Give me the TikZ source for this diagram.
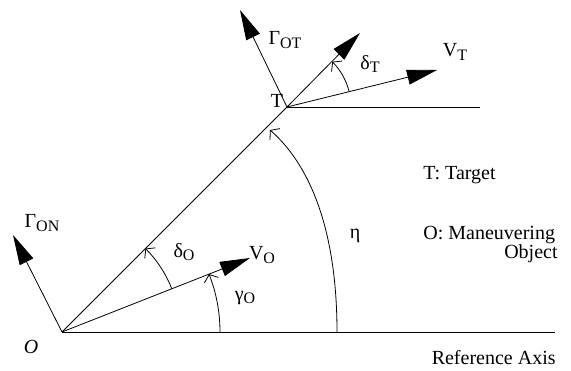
\documentclass[tikz,border=0pt]{standalone}
\usepackage{fontspec}
\setmainfont{Liberation Serif}
\usetikzlibrary{arrows.meta}
\newcommand\sbs[1]{\raisebox{-0.35ex}{\fontsize{16}{16}\selectfont #1}}
\begin{document}
\begin{tikzpicture}[x=1pt,y=1pt, line width=0.8pt,
  vec/.style={-{Triangle[length=30pt,width=15pt]}},
  arcarrow/.style={-{Straight Barb[length=6pt,width=15pt]}},
  lbl/.style={font=\fontsize{20}{20}\selectfont, inner sep=0pt}]
\useasboundingbox (0,0) rectangle (571,371);
\coordinate (O) at (62,39);
\coordinate (T) at (287,264);
\coordinate (axisend) at (555,39);
\coordinate (Tend) at (480,264);
\coordinate (GON) at (13,136);
\coordinate (VO) at (250,113);
\coordinate (GOT) at (240,361);
\coordinate (LOS) at (360,338);
\coordinate (VT) at (437,301);
\coordinate (eta0) at (337,39);
\coordinate (eta1) at (270,241);
% lines
\draw (O) -- (axisend);
\draw (O) -- (T);
\draw (T) -- (Tend);
\draw[vec] (O) -- (GON);
\draw[vec] (O) -- (VO);
\draw[vec] (T) -- (GOT);
\draw[vec] (T) -- (LOS);
\draw[vec] (T) -- (VT);
% angle arcs
\draw[arcarrow] ([shift={(21.5:118)}]O) arc[start angle=21.5,end angle=45,radius=118];
\draw[arcarrow] ([shift={(0:158)}]O) arc[start angle=0,end angle=21.5,radius=158];
\draw[arcarrow] ([shift={(13.9:64)}]T) arc[start angle=13.9,end angle=45,radius=64];
\draw[arcarrow] (eta0) .. controls (337,141) and (310,206) .. (eta1);
% labels
\node[lbl] (lGOT) at (285,331) {Γ\sbs{OT}};
\node[lbl] (lGON) at (42,148) {Γ\sbs{ON}};
\node[lbl] (lVT) at (455,319) {V\sbs{T}};
\node[lbl] (ldT) at (370,307) {δ\sbs{T}};
\node[lbl] (lT) at (277,270) {T};
\node[lbl] (lVO) at (262,116) {V\sbs{O}};
\node[lbl] (ldO) at (184,119) {δ\sbs{O}};
\node[lbl] (lgO) at (245,73) {γ\sbs{O}};
\node[lbl] (leta) at (355,135) {η};
\node[lbl] (lO) at (31,24) {\textit{O}};
\node[lbl,anchor=west] (ltgt) at (423,196) {T: Target};
\node[lbl,anchor=west] (lman) at (423,136) {O: Maneuvering};
\node[lbl,anchor=east] (lobj) at (558,117) {Object};
\node[lbl,anchor=east] (lref) at (556,13) {Reference Axis};
\end{tikzpicture}
\end{document}
